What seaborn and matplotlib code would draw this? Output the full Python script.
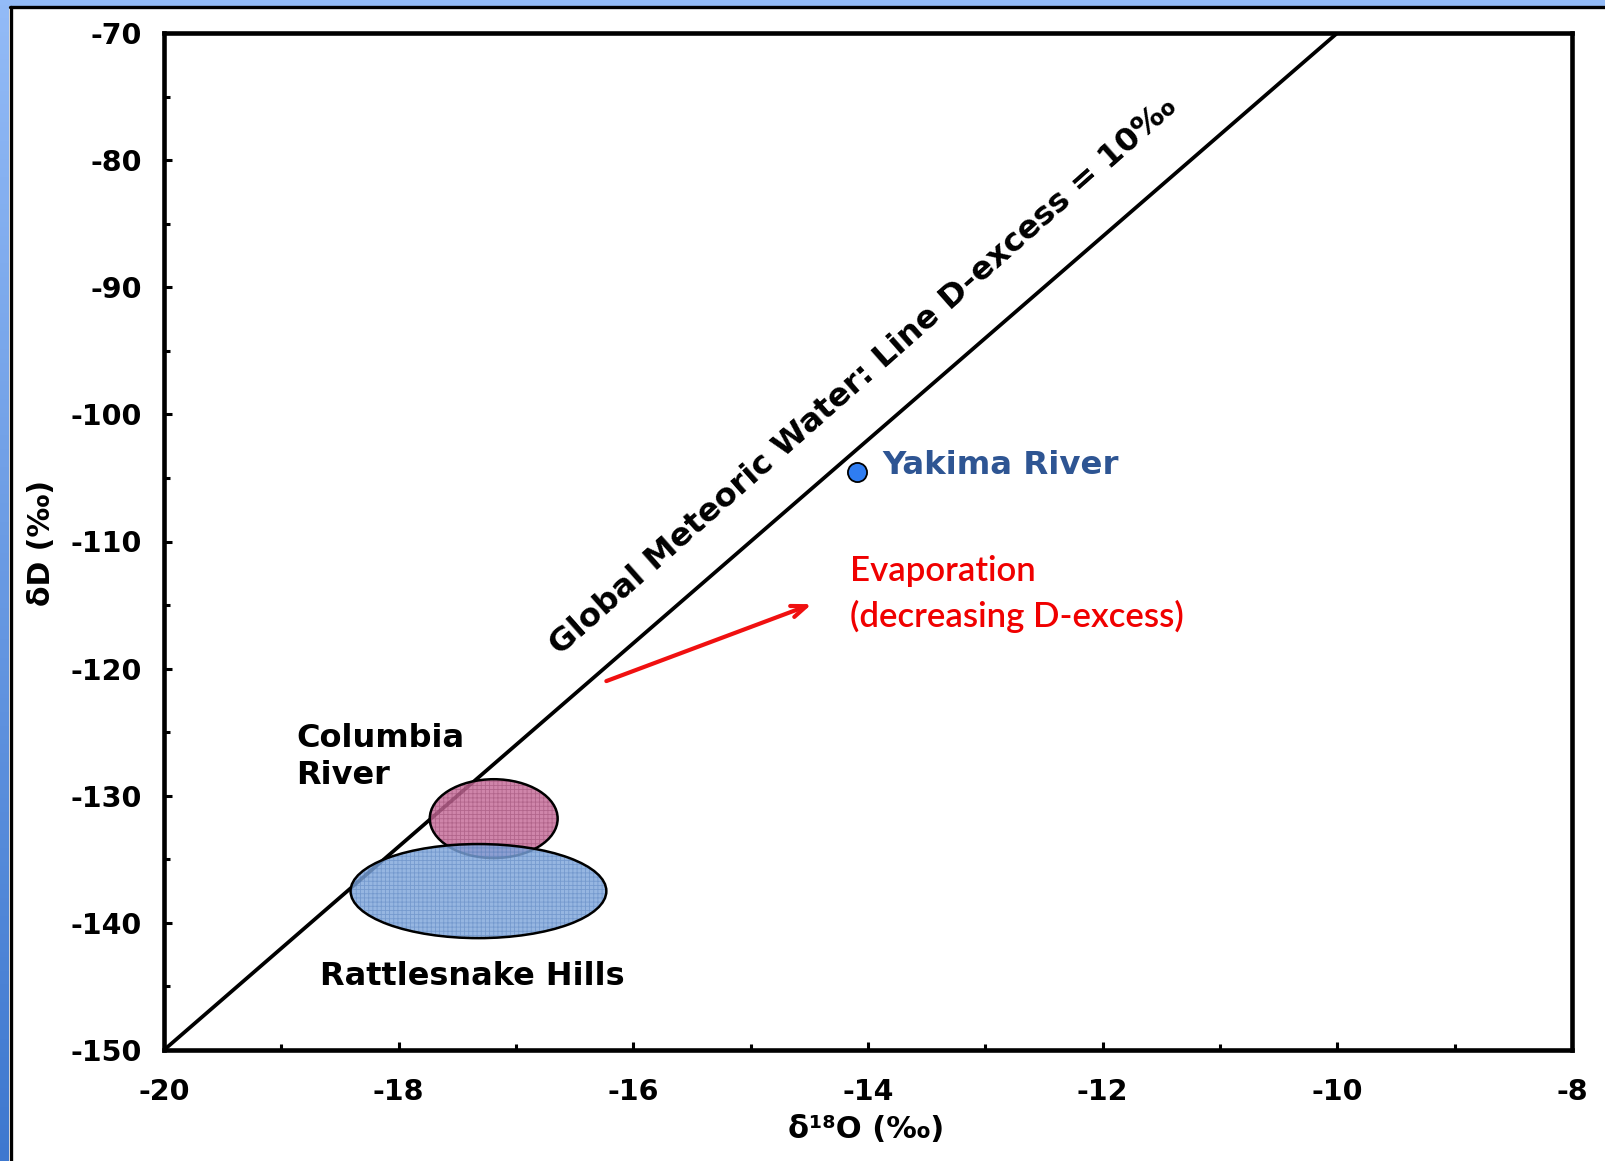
import numpy as np
import pandas as pd
import matplotlib
matplotlib.use("Agg")
import matplotlib.pyplot as plt
import seaborn as sns
from matplotlib.patches import Ellipse, Rectangle
from matplotlib.lines import Line2D
from matplotlib.colors import LinearSegmentedColormap
from matplotlib.ticker import MultipleLocator

# Global Meteoric Water Line end points (d18O, dD)
gmwl_d18o = [-20.0, -10.0]
gmwl_dD = [-150.0, -70.0]

# Yakima River sample
yakima_d18o = [-14.09]
yakima_dD = [-104.5]

# Sample-cloud ellipses: centre, width (d18O), height (dD)
columbia_center = (-17.19, -131.8)
columbia_size = (1.09, 6.2)
rattlesnake_center = (-17.32, -137.5)
rattlesnake_size = (2.18, 7.4)

# Evaporation trend arrow (start, end)
evap_start = (-16.23, -120.98)
evap_end = (-14.48, -114.93)

x_ticks = [-20, -18, -16, -14, -12, -10, -8]
y_ticks = [-150, -140, -130, -120, -110, -100, -90, -80, -70]

sns.set_theme(style="white")
plt.rcParams["font.family"] = ["DejaVu Sans"]
plt.rcParams["hatch.linewidth"] = 0.6

W, H = 1606, 1161
fig = plt.figure(figsize=(W / 100, H / 100), dpi=100)
ax = fig.add_axes([164 / W, 1 - 1050 / H, (1572 - 164) / W, (1050 - 33) / H])

# Meteoric water line
gmwl = pd.DataFrame({"d18O": gmwl_d18o, "dD": gmwl_dD})
sns.lineplot(data=gmwl, x="d18O", y="dD", color="black", linewidth=2.7, ax=ax, zorder=1)

# Ellipses (semi-transparent, textured fill); later ones sit on top
for i, ((cx, cy), (w, h), fc, hc) in enumerate([
    (columbia_center, columbia_size, "#C56A97", "#8E3F66"),
    (rattlesnake_center, rattlesnake_size, "#7FA6DB", "#4E78B8"),
]):
    z = 2 + i
    ax.add_patch(Ellipse((cx, cy), w, h, facecolor=fc, edgecolor="none", alpha=0.82, zorder=z))
    ax.add_patch(Ellipse((cx, cy), w, h, facecolor="none", edgecolor=hc, hatch="++++",
                         linewidth=0, alpha=0.45, zorder=z + 0.1))
    ax.add_patch(Ellipse((cx, cy), w, h, facecolor="none", edgecolor="black", linewidth=1.8,
                         zorder=z + 0.2))

# Yakima River point
yak = pd.DataFrame({"d18O": yakima_d18o, "dD": yakima_dD})
sns.scatterplot(data=yak, x="d18O", y="dD", s=190, color="#2F7DF2", edgecolor="black",
                linewidth=1.3, ax=ax, zorder=5)

ax.set_xlim(-20, -8)
ax.set_ylim(-150, -70)
ax.set_xticks(x_ticks)
ax.set_yticks(y_ticks)
ax.xaxis.set_minor_locator(MultipleLocator(1))
ax.yaxis.set_minor_locator(MultipleLocator(5))
ax.tick_params(which="both", direction="in", top=False, right=False, bottom=True, left=True,
               color="black", labelcolor="black")
ax.tick_params(which="major", length=6, width=2.2, labelsize=20.5)
ax.tick_params(axis="y", which="major", pad=16)
ax.tick_params(axis="x", which="major", pad=20)
ax.tick_params(which="minor", length=4, width=2.2)
ax.set_xticklabels([str(t) for t in x_ticks], fontweight="bold")
ax.set_yticklabels([str(t) for t in y_ticks], fontweight="bold")
for sp in ax.spines.values():
    sp.set_visible(True)
    sp.set_color("black")
    sp.set_linewidth(3.3)

ax.set_xlabel("")
ax.set_ylabel("")
fig.text(866 / W, 1 - 1130 / H, "δ¹⁸O (‰)", fontsize=22, fontweight="bold", color="black",
         ha="center", va="center")
fig.text(42 / W, 1 - 543 / H, "δD (‰)", fontsize=21.5, fontweight="bold", color="black",
         rotation=90, ha="center", va="center")

# Annotations
ax.text(-14.04, -97.0, "Global Meteoric Water: Line D-excess = 10‰", fontsize=23.3,
        fontweight="bold", rotation=41.5, rotation_mode="anchor", ha="center", va="center",
        color="black", zorder=6)
ax.text(-13.88, -104.0, "Yakima River", fontsize=23.3, fontweight="bold", color="#2E5593",
        ha="left", va="center", zorder=6)
ax.text(-18.875, -126.96, "Columbia\nRiver", fontsize=23, fontweight="bold", color="black",
        ha="left", va="center", linespacing=1.25, zorder=6)
ax.text(-17.375, -144.2, "Rattlesnake Hills", fontsize=23, fontweight="bold", color="black",
        ha="center", va="center", zorder=6)
ax.text(-14.15, -114.14, "Evaporation\n(decreasing D-excess)", fontsize=25, color="#F00000",
        family=["Lato", "DejaVu Sans"], fontweight="semibold", ha="left", va="center",
        linespacing=1.45, zorder=6)
ax.annotate("", xy=evap_end, xytext=evap_start,
            arrowprops=dict(arrowstyle="->,head_length=0.9,head_width=0.35", color="#F01010",
                            lw=3.0, shrinkA=0, shrinkB=0), zorder=6)

# Slide frame: blue bands with black rules
cmap = LinearSegmentedColormap.from_list("band", ["#93BBF7", "#3E78CF"])
band = fig.add_axes([0, 0, 9 / W, 1])
band.imshow(np.linspace(0, 1, 256).reshape(-1, 1), aspect="auto", cmap=cmap, extent=[0, 1, 0, 1],
            origin="upper")
band.set_axis_off()
fig.add_artist(Rectangle((0, 1 - 5 / H), 1, 5 / H, transform=fig.transFigure, color="#93BBF7", zorder=0))
fig.add_artist(Line2D([10 / W, 1], [1 - 7 / H, 1 - 7 / H], transform=fig.transFigure, color="black", lw=2.4))
fig.add_artist(Line2D([11.5 / W, 11.5 / W], [0, 1 - 7 / H], transform=fig.transFigure, color="black", lw=2.4))

fig.savefig("out.png", dpi=100)
